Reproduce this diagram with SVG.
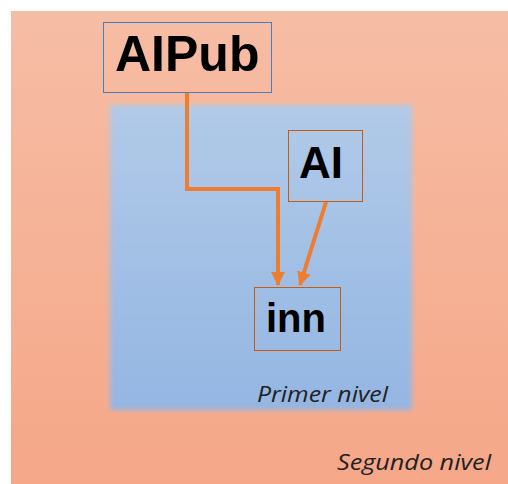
<svg xmlns="http://www.w3.org/2000/svg" width="508" height="484" viewBox="0 0 508 484">
<defs>
<linearGradient id="gOuter" x1="0" y1="0" x2="0" y2="1">
<stop offset="0" stop-color="#f6bda5"/>
<stop offset="1" stop-color="#f5a687"/>
</linearGradient>
<linearGradient id="gInner" x1="0" y1="0" x2="0" y2="1">
<stop offset="0" stop-color="#b1cae8"/>
<stop offset="1" stop-color="#94b6e2"/>
</linearGradient>
<filter id="soft" x="-5%" y="-5%" width="110%" height="110%">
<feGaussianBlur stdDeviation="2.5"/>
</filter>
<marker id="arr" markerWidth="14" markerHeight="14" viewBox="0 0 14 14" refX="13" refY="7" orient="auto" markerUnits="userSpaceOnUse">
<path d="M0,0 L14,7 L0,14 Z" fill="#ed7d31"/>
</marker>
</defs>
<style>
.lbl{font-family:"Liberation Sans",Arial,sans-serif;font-weight:bold;fill:#000}
.lvl{font-family:"Open Sans","Noto Sans",sans-serif;font-style:italic;font-size:22px;fill:#222}
.conn{fill:none;stroke:#ed7d31;stroke-width:4}
</style>
<rect width="508" height="484" fill="#fff"/>
<g id="segundo-nivel">
<rect x="11" y="11" width="510" height="490" fill="url(#gOuter)"/>
<text class="lvl" x="337" y="470" textLength="154" lengthAdjust="spacingAndGlyphs">Segundo nivel</text>
</g>
<g id="primer-nivel">
<rect x="110" y="105" width="302" height="305" fill="url(#gInner)" filter="url(#soft)"/>
<text class="lvl" x="257" y="402" textLength="131" lengthAdjust="spacingAndGlyphs">Primer nivel</text>
</g>
<g id="AIPub">
<rect x="103.5" y="22.5" width="168" height="70" fill="none" stroke="#4a7ebb" stroke-width="1"/>
<text class="lbl" x="115" y="71" font-size="50">AIPub</text>
</g>
<g id="AI">
<rect x="288.5" y="130.5" width="74" height="71" fill="none" stroke="#c55a11" stroke-width="1"/>
<text class="lbl" x="299" y="178" font-size="44">AI</text>
</g>
<g id="inn">
<rect x="254.5" y="287.5" width="86" height="63" fill="none" stroke="#c55a11" stroke-width="1"/>
<text class="lbl" x="266" y="332" font-size="40">inn</text>
</g>
<g id="connectors">
<path class="conn" d="M187,93 V189 H278 V285" marker-end="url(#arr)"/>
<path class="conn" d="M326,202 L300,285" marker-end="url(#arr)"/>
</g>
</svg>
